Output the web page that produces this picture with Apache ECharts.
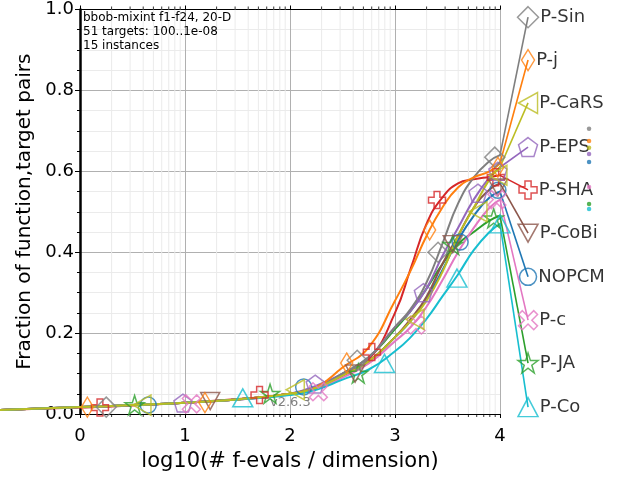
<!DOCTYPE html>
<html><head><meta charset="utf-8">
<script src="https://cdn.jsdelivr.net/npm/echarts@6/dist/echarts.min.js"></script>
<style>html,body{margin:0;padding:0;background:#fff}#c{width:640px;height:480px}</style>
</head><body><div id="c"></div>
<script>
// ---- data ----
const xs = [-0.76, 0, 0.5, 1, 1.5, 2, 2.25, 2.5, 2.75, 3, 3.15, 3.3, 3.45, 3.6, 3.75, 3.9, 4];
const yNOPCM = [0.010,0.017,0.022,0.028,0.036,0.050,0.067,0.095,0.130,0.190,0.230,0.285,0.355,0.430,0.490,0.535,0.550];
const yJA    = [0.010,0.017,0.022,0.028,0.036,0.050,0.065,0.100,0.140,0.210,0.255,0.310,0.370,0.420,0.450,0.478,0.490];
const ySHA   = [0.010,0.016,0.021,0.028,0.037,0.050,0.065,0.098,0.135,0.250,0.360,0.470,0.535,0.570,0.580,0.586,0.590];
const yEPS   = [0.010,0.017,0.022,0.028,0.036,0.050,0.070,0.100,0.140,0.215,0.255,0.310,0.390,0.460,0.530,0.585,0.610];
const yCoBi  = [0.010,0.017,0.022,0.028,0.036,0.050,0.065,0.095,0.130,0.190,0.235,0.290,0.370,0.440,0.510,0.555,0.570];
const yC     = [0.010,0.017,0.022,0.028,0.036,0.048,0.062,0.090,0.125,0.180,0.215,0.265,0.330,0.400,0.460,0.510,0.530];
const ySin   = [0.010,0.017,0.022,0.028,0.036,0.050,0.065,0.100,0.140,0.215,0.260,0.325,0.420,0.520,0.585,0.625,0.640];
const yCaRS  = [0.010,0.017,0.022,0.028,0.036,0.050,0.065,0.095,0.130,0.190,0.230,0.280,0.350,0.440,0.510,0.580,0.610];
const yCo    = [0.010,0.017,0.022,0.028,0.036,0.047,0.060,0.085,0.110,0.155,0.190,0.235,0.290,0.345,0.405,0.450,0.470];
const yJ     = [0.010,0.017,0.022,0.028,0.036,0.050,0.066,0.115,0.165,0.280,0.355,0.440,0.510,0.560,0.585,0.600,0.620];

const mkNOPCM = [[0.65,0.022],[2.13,0.067],[3.62,0.425],[3.98,0.553]];
const mkJA    = [[0.52,0.022],[1.81,0.050],[2.65,0.100],[3.55,0.418],[3.94,0.484]];
const mkSHA   = [[0.19,0.016],[1.71,0.047],[2.78,0.153],[3.40,0.529],[3.96,0.585]];
const mkEPS   = [[0.98,0.027],[2.24,0.074],[3.27,0.300],[3.79,0.546],[3.98,0.600]];
const mkCoBi  = [[1.24,0.032],[2.62,0.100],[3.55,0.420],[3.98,0.560]];
const mkC     = [[1.06,0.025],[2.27,0.055],[3.20,0.220],[3.97,0.530]];
const mkSin   = [[0.25,0.017],[2.64,0.133],[3.41,0.400],[3.95,0.635]];
const mkCaRS  = [[0.59,0.022],[2.05,0.060],[3.19,0.234],[3.79,0.500],[3.98,0.590]];
const mkCo    = [[1.55,0.040],[2.90,0.125],[3.59,0.336],[4.00,0.470]];
const mkJ     = [[0.07,0.017],[1.19,0.028],[2.54,0.126],[3.33,0.455],[3.98,0.610]];

const labelX = 4.267;
const labelNames = ['P-Sin','P-j','P-CaRS','P-EPS','P-SHA','P-CoBi','NOPCM','P-c','P-JA','P-Co'];
const labelY     = [0.981,0.875,0.769,0.660,0.554,0.447,0.339,0.232,0.126,0.017];

const dotX = 4.848;
const dotY = [0.705,0.675,0.658,0.643,0.623,0.561,0.519,0.507];
const dotColors = ['#7f7f7f','#ff7f0e','#bcbd22','#9467bd','#1f77b4','#e377c2','#2ca02c','#17becf'];

// ---- styles ----
const SYM = {
  circle: 'circle',
  star: 'path://M5,0 L6.2,3.6 L10,3.6 L6.9,5.8 L8.1,9.5 L5,7.2 L1.9,9.5 L3.1,5.8 L0,3.6 L3.8,3.6 Z',
  plus: 'path://M3.3,0 H6.7 V3.3 H10 V6.7 H6.7 V10 H3.3 V6.7 H0 V3.3 H3.3 Z',
  pent: 'path://M5,0 L10,3.6 L8.1,9.5 L1.9,9.5 L0,3.6 Z',
  down: 'path://M0,0 L10,0 L5,9 Z',
  xx: 'path://M2,0 L5,3 L8,0 L10,2 L7,5 L10,8 L8,10 L5,7 L2,10 L0,8 L3,5 L0,2 Z',
  diam: 'diamond',
  left: 'path://M0,5 L9,0 L9,10 Z',
  up: 'triangle',
  thin: 'diamond'
};
const algos = [
  {name:'NOPCM', y:yNOPCM, mk:mkNOPCM, color:'#1f77b4', sym:SYM.circle, size:16, lsize:17},
  {name:'P-JA',  y:yJA,    mk:mkJA,    color:'#2ca02c', sym:SYM.star,   size:19, lsize:20},
  {name:'P-SHA', y:ySHA,   mk:mkSHA,   color:'#d62728', sym:SYM.plus,   size:17, lsize:18},
  {name:'P-EPS', y:yEPS,   mk:mkEPS,   color:'#9467bd', sym:SYM.pent,   size:18, lsize:19},
  {name:'P-CoBi',y:yCoBi,  mk:mkCoBi,  color:'#8c564b', sym:SYM.down,   size:[19,17], lsize:[20,18]},
  {name:'P-c',   y:yC,     mk:mkC,     color:'#e377c2', sym:SYM.xx,     size:18, lsize:19},
  {name:'P-Sin', y:ySin,   mk:mkSin,   color:'#7f7f7f', sym:SYM.diam,   size:20, lsize:21},
  {name:'P-j',   y:yJ,     mk:mkJ,     color:'#ff7f0e', sym:SYM.thin,   size:[12,20], lsize:[13,21]},
  {name:'P-Co',  y:yCo,    mk:mkCo,    color:'#17becf', sym:SYM.up,     size:[20,18], lsize:[20,19]},
  {name:'P-CaRS',y:yCaRS,  mk:mkCaRS,  color:'#bcbd22', sym:SYM.left,   size:[18,20], lsize:[19,21]}
];

const minorX = [];
for (let d = 0; d < 4; d++) for (let k = 2; k <= 9; k++) minorX.push(d + Math.log10(k));

const FONT = 'DejaVu Sans';
const PX = 105; // pixels per decade
const series = [];
series.push({
  type:'custom', silent:true, z:1, xAxisIndex:0, yAxisIndex:0, data: minorX.map(v => [v, 0]), encode:{x:0, y:1},
  renderItem: function(params, api){
    const x = api.value(0);
    const b = api.coord([x, 0]); const t = api.coord([x, 1]);
    return {type:'group', children:[
      {type:'line', shape:{x1:b[0],y1:b[1],x2:t[0],y2:t[1]}, style:{stroke:'#ebebeb', lineWidth:1}},
      {type:'line', shape:{x1:b[0],y1:b[1],x2:b[0],y2:b[1]+3}, style:{stroke:'#000', lineWidth:0.8}},
      {type:'line', shape:{x1:t[0],y1:t[1],x2:t[0],y2:t[1]-3}, style:{stroke:'#000', lineWidth:0.8}}
    ]};
  }
});
algos.forEach(function(a){
  series.push({
    type:'line', name:a.name, xAxisIndex:2, yAxisIndex:2, data: xs.map((x,i)=>[x, a.y[i]]), showSymbol:false, symbol:'none',
    smooth:0.5, z:3,
    lineStyle:{color:a.color, width:2, join:'round', cap:'round'}, itemStyle:{color:a.color}, silent:true
  });
});
algos.forEach(function(a){
  const li = labelNames.indexOf(a.name);
  series.push({
    type:'line', xAxisIndex:2, yAxisIndex:2, data:[[4, a.y[a.y.length-1]], [labelX, labelY[li]]], symbol:'none', z:3,
    lineStyle:{color:a.color, width:1.6}, silent:true
  });
});
algos.forEach(function(a){
  series.push({
    type:'scatter', xAxisIndex:2, yAxisIndex:2, data:a.mk, symbol:a.sym, symbolSize:a.size, z:4, silent:true,
    itemStyle:{color:'rgba(255,255,255,0)', borderColor:a.color, borderWidth:1.5}
  });
  const li = labelNames.indexOf(a.name);
  series.push({
    type:'scatter', xAxisIndex:2, yAxisIndex:2, data:[{name:a.name, value:[labelX, labelY[li]]}], symbol:a.sym, symbolSize:a.lsize, z:4, silent:true,
    itemStyle:{color:'rgba(255,255,255,0)', borderColor:a.color, borderWidth:1.5},
    label:{show:true, position:'right', distance:1, formatter:'{b}', color:'#000', fontSize:18, fontFamily:FONT}
  });
});
series.push({
  type:'scatter', xAxisIndex:2, yAxisIndex:2, data: dotY.map((y,i)=>({value:[dotX, y], itemStyle:{color:dotColors[i]}})),
  symbol:'circle', symbolSize:4.5, z:5, silent:true
});

const chart = echarts.init(document.getElementById('c'), null, {renderer:'canvas'});
chart.setOption({
  animation:false,
  backgroundColor:'#fff',
  textStyle:{fontFamily:FONT},
  grid:[
    {left:80, right:140, top:9.5, bottom:66, containLabel:false},
    {left:0, right:0, top:9.5, bottom:66, containLabel:false}
  ],
  xAxis:[{
    type:'value', gridIndex:0, min:0, max:4, interval:1, position:'bottom',
    name:'log10(# f-evals / dimension)', nameLocation:'middle', nameGap:37,
    nameTextStyle:{fontSize:21, color:'#000', fontFamily:FONT},
    axisLine:{show:true, onZero:false, lineStyle:{color:'#000', width:1}},
    axisTick:{show:true, length:4, lineStyle:{color:'#000'}},
    axisLabel:{fontSize:18, color:'#000', margin:13, fontFamily:FONT, formatter:v=>String(v)},
    splitLine:{show:true, lineStyle:{color:'#b0b0b0', width:1}}
  },{
    type:'value', gridIndex:0, min:0, max:4, interval:1, position:'top',
    axisLine:{show:true, onZero:false, lineStyle:{color:'#000', width:1}},
    axisTick:{show:true, length:4, lineStyle:{color:'#000'}},
    axisLabel:{show:false}, splitLine:{show:false}
  },{
    type:'value', gridIndex:1, min:-80/PX, max:560/PX, show:false
  }],
  yAxis:[{
    type:'value', gridIndex:0, min:0, max:1, interval:0.2, position:'left',
    name:'Fraction of function,target pairs', nameLocation:'middle', nameGap:40,
    nameTextStyle:{fontSize:20, color:'#000', fontFamily:FONT},
    axisLine:{show:true, lineStyle:{color:'#b0b0b0', width:1}},
    axisTick:{show:true, length:5, lineStyle:{color:'#000'}},
    minorTick:{show:true, splitNumber:4, length:3, lineStyle:{color:'#000'}},
    axisLabel:{fontSize:18, color:'#000', margin:6, fontFamily:FONT, formatter:v=>v.toFixed(1)},
    splitLine:{show:true, lineStyle:{color:'#b0b0b0', width:1}},
    minorSplitLine:{show:true, lineStyle:{color:'#ebebeb', width:1}}
  },{
    type:'value', gridIndex:0, min:0, max:1, interval:0.2, position:'right',
    axisLine:{show:true, lineStyle:{color:'#000', width:2.5}},
    axisTick:{show:true, inside:true, length:5, lineStyle:{color:'#000'}},
    minorTick:{show:true, splitNumber:4, length:3, lineStyle:{color:'#000'}},
    axisLabel:{show:false}, splitLine:{show:false}
  },{
    type:'value', gridIndex:1, min:0, max:1, show:false
  }],
  graphic:[
    {type:'text', left:83, top:11, z:10, style:{text:'bbob-mixint f1-f24, 20-D\n51 targets: 100..1e-08\n15 instances', font:'12px "DejaVu Sans"', lineHeight:14, fill:'#000'}},
    {type:'text', left:270, top:396, z:2, style:{text:'v2.6.3', font:'13px "DejaVu Sans"', fill:'#808080'}}
  ],
  series: series
});
</script>
</body></html>
